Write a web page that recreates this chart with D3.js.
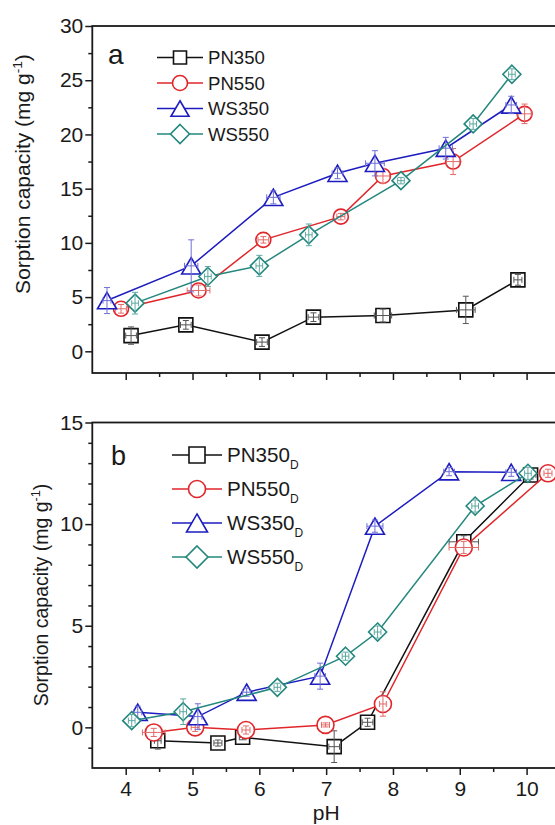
<!DOCTYPE html>
<html>
<head>
<meta charset="utf-8">
<script src="https://cdn.jsdelivr.net/npm/d3@7"></script>
<style>
  body { margin: 0; background: #fff; }
  svg { display: block; }
  text { font-family: Arial, "Liberation Sans", sans-serif; fill: #1a1a1a; }
</style>
</head>
<body>
<svg id="chart" width="555" height="825"></svg>
<script>
// ---- Panel a: pristine biochars ----
const phPN350 = [4.08, 4.90, 6.04, 6.81, 7.85, 9.09, 9.87];
const capPN350 = [1.45, 2.44, 0.85, 3.15, 3.30, 3.82, 6.59];
const phErrPN350 = [0.08, 0.08, 0.08, 0.08, 0.13, 0.14, 0.06];
const capErrPN350 = [0.8, 0.4, 0.4, 0.4, 0.6, 1.26, 0.5];

const phPN550 = [3.93, 5.09, 6.06, 7.22, 7.85, 8.90, 9.97];
const capPN550 = [3.92, 5.61, 10.28, 12.42, 16.17, 17.50, 21.90];
const phErrPN550 = [0.08, 0.17, 0.08, 0.06, 0.10, 0.10, 0.10];
const capErrPN550 = [0.4, 0.5, 0.3, 0.3, 0.7, 1.2, 0.9];

const phWS350 = [3.72, 4.98, 6.21, 7.17, 7.73, 8.79, 9.77];
const capWS350 = [4.68, 7.88, 14.20, 16.42, 17.34, 18.73, 22.72];
const phErrWS350 = [0.06, 0.10, 0.10, 0.08, 0.14, 0.10, 0.08];
const capErrWS350 = [1.2, 2.4, 0.6, 0.5, 1.16, 1.0, 0.8];

const phWS550 = [4.14, 5.23, 6.00, 6.74, 8.12, 9.20, 9.78];
const capWS550 = [4.44, 6.90, 7.88, 10.74, 15.74, 20.97, 25.55];
const phErrWS550 = [0.05, 0.05, 0.05, 0.05, 0.05, 0.05, 0.05];
const capErrWS550 = [1.0, 0.92, 0.97, 1.0, 0.3, 0.5, 0.5];

// ---- Panel b: D-series ----
const phPN350D = [4.48, 5.38, 5.75, 7.12, 7.62, 9.06, 10.06];
const capPN350D = [-0.66, -0.77, -0.49, -0.95, 0.25, 9.13, 12.42];
const phErrPN350D = [0.05, 0.06, 0.05, 0.08, 0.08, 0.22, 0.08];
const capErrPN350D = [0.41, 0.15, 0.12, 0.78, 0.2, 0.3, 0.2];

const phPN550D = [4.42, 5.04, 5.80, 6.99, 7.85, 9.06, 10.32];
const capPN550D = [-0.25, 0.00, -0.13, 0.12, 1.15, 8.85, 12.50];
const phErrPN550D = [0.17, 0.06, 0.06, 0.06, 0.05, 0.22, 0.06];
const capErrPN550D = [0.2, 0.2, 0.2, 0.1, 0.6, 0.3, 0.2];

const phWS350D = [4.18, 5.08, 5.81, 6.91, 7.73, 8.84, 9.77];
const capWS350D = [0.74, 0.53, 1.73, 2.52, 9.90, 12.58, 12.55];
const phErrWS350D = [0.06, 0.06, 0.06, 0.08, 0.12, 0.08, 0.08];
const capErrWS350D = [0.3, 0.63, 0.2, 0.64, 0.3, 0.2, 0.2];

const phWS550D = [4.09, 4.86, 6.27, 7.29, 7.77, 9.23, 10.02];
const capWS550D = [0.33, 0.77, 1.97, 3.50, 4.69, 10.89, 12.50];
const phErrWS550D = [0.05, 0.05, 0.05, 0.05, 0.05, 0.05, 0.05];
const capErrWS550D = [0.3, 0.63, 0.2, 0.2, 0.3, 0.3, 0.3];

// ---- Legend / axis text ----
const namesA = ["PN350", "PN550", "WS350", "WS550"];
const namesB = ["PN350", "PN550", "WS350", "WS550"];
const subB = "D";
const xTicks = [4, 5, 6, 7, 8, 9, 10];
const xMinor = [4.5, 5.5, 6.5, 7.5, 8.5, 9.5];
const yTicksA = [0, 5, 10, 15, 20, 25, 30];
const yMinorA = [2.5, 7.5, 12.5, 17.5, 22.5, 27.5];
const yTicksB = [0, 5, 10, 15];
const yMinorB = [-1, 1, 2, 3, 4, 6, 7, 8, 9, 11, 12, 13, 14];

// ---- Styles ----
const colors = ["#111111", "#e0262b", "#1c1cc0", "#23877e"];
const errColors = ["#555555", "#e46a6a", "#6f6fd8", "#5ea9a1"];
const shapes = ["square", "circle", "triangle", "diamond"];
const ink = "#1a1a1a";

const svg = d3.select("#chart");

function symbolPath(shape, s) {
  const h = s / 2;
  if (shape === "square") return `M${-h},${-h}H${h}V${h}H${-h}Z`;
  if (shape === "circle") return `M${h},0A${h},${h} 0 1,1 ${-h},0A${h},${h} 0 1,1 ${h},0Z`;
  if (shape === "triangle") { const th = s * 0.86; return `M0,${-th / 2}L${h},${th / 2}L${-h},${th / 2}Z`; }
  return `M0,${-h}L${h},0L0,${h}L${-h},0Z`;
}

function drawPanel(cfg) {
  const x = d3.scaleLinear().domain([3.5, 10.5]).range([92.3, 560]);
  const y = d3.scaleLinear().domain(cfg.yDomain).range([cfg.bottom, cfg.top]);
  const g = svg.append("g");

  // ticks
  const styleAxis = s => {
    s.select(".domain").remove();
    s.selectAll(".tick line").attr("stroke", ink).attr("stroke-width", 1.5);
    s.selectAll(".tick text").attr("fill", ink).style("font-size", cfg.tickFont + "px")
      .style("font-family", "Arial, 'Liberation Sans', sans-serif");
  };
  g.append("g").attr("transform", `translate(0,${cfg.bottom})`)
    .call(d3.axisBottom(x).tickValues(xMinor).tickSize(4).tickFormat("")).call(styleAxis);
  const xa = d3.axisBottom(x).tickValues(xTicks).tickSize(7).tickPadding(6)
    .tickFormat(cfg.xLabels ? d3.format("d") : "");
  g.append("g").attr("transform", `translate(0,${cfg.bottom})`).call(xa).call(styleAxis);
  g.append("g").attr("transform", `translate(92.3,0)`)
    .call(d3.axisLeft(y).tickValues(cfg.yMinor).tickSize(4).tickFormat("")).call(styleAxis);
  g.append("g").attr("transform", `translate(92.3,0)`)
    .call(d3.axisLeft(y).tickValues(cfg.yTicks).tickSize(7).tickPadding(2).tickFormat(d3.format("d")))
    .call(styleAxis);

  // frame
  g.append("rect").attr("x", 92.3).attr("y", cfg.top).attr("width", 560 - 92.3)
    .attr("height", cfg.bottom - cfg.top).attr("fill", "none").attr("stroke", ink).attr("stroke-width", 1.8);

  // series: line, hollow markers, then error bars on top
  const line = d3.line().x(d => x(d.ph)).y(d => y(d.cap));
  cfg.series.forEach((s, i) => {
    const pts = s.ph.map((p, k) => ({ ph: p, cap: s.cap[k], pe: s.phErr[k], ce: s.capErr[k] }));
    const sg = g.append("g");
    sg.append("path").attr("d", line(pts)).attr("fill", "none")
      .attr("stroke", colors[i]).attr("stroke-width", 1.5);
    sg.selectAll(".mk").data(pts).join("path")
      .attr("transform", d => `translate(${x(d.ph)},${y(d.cap)})`)
      .attr("d", symbolPath(shapes[i], cfg.markerSizes[i]))
      .attr("fill", "#fff").attr("stroke", colors[i]).attr("stroke-width", 1.6);
    const eb = sg.append("g").attr("stroke", errColors[i]).attr("stroke-width", 1).attr("fill", "none");
    pts.forEach(d => {
      const cx = x(d.ph), cy = y(d.cap);
      const y0 = y(d.cap - d.ce), y1 = y(d.cap + d.ce);
      const x0 = x(d.ph - d.pe), x1 = x(d.ph + d.pe);
      eb.append("path").attr("d",
        `M${cx},${y0}V${y1}M${cx - 3},${y0}H${cx + 3}M${cx - 3},${y1}H${cx + 3}` +
        `M${x0},${cy}H${x1}M${x0},${cy - 3}V${cy + 3}M${x1},${cy - 3}V${cy + 3}`);
    });
  });

  // panel letter
  g.append("text").attr("x", cfg.letterX).attr("y", cfg.letterY).text(cfg.letter)
    .style("font-size", cfg.letterFont + "px");

  // legend
  cfg.series.forEach((s, i) => {
    const ly = cfg.legY + i * cfg.legStep;
    g.append("line").attr("x1", cfg.legX0).attr("x2", cfg.legX1).attr("y1", ly).attr("y2", ly)
      .attr("stroke", colors[i]).attr("stroke-width", 1.5);
    g.append("path").attr("transform", `translate(${(cfg.legX0 + cfg.legX1) / 2},${ly})`)
      .attr("d", symbolPath(shapes[i], cfg.legMarkerSizes[i]))
      .attr("fill", "#fff").attr("stroke", colors[i]).attr("stroke-width", 1.6);
    const t = g.append("text").attr("x", cfg.legX1 + 5).attr("y", ly + cfg.legFont * 0.36)
      .style("font-size", cfg.legFont + "px");
    t.append("tspan").text(s.name);
    if (cfg.sub) t.append("tspan").attr("dy", 6.5).style("font-size", "12px").text(cfg.sub);
  });

  // y-axis title
  const yt = g.append("text")
    .attr("transform", `translate(${cfg.yTitleX},${cfg.yTitleY}) rotate(-90)`)
    .attr("text-anchor", "middle").style("font-size", cfg.yTitleFont + "px");
  yt.append("tspan").text("Sorption capacity (mg g");
  yt.append("tspan").attr("dy", -cfg.yTitleFont * 0.4).style("font-size", (cfg.yTitleFont * 0.65) + "px").text("-1");
  yt.append("tspan").attr("dy", cfg.yTitleFont * 0.4).text(")");
  return x;
}

const seriesA = [
  { name: namesA[0], ph: phPN350, cap: capPN350, phErr: phErrPN350, capErr: capErrPN350 },
  { name: namesA[1], ph: phPN550, cap: capPN550, phErr: phErrPN550, capErr: capErrPN550 },
  { name: namesA[2], ph: phWS350, cap: capWS350, phErr: phErrWS350, capErr: capErrWS350 },
  { name: namesA[3], ph: phWS550, cap: capWS550, phErr: phErrWS550, capErr: capErrWS550 }
];
const seriesB = [
  { name: namesB[0], ph: phPN350D, cap: capPN350D, phErr: phErrPN350D, capErr: capErrPN350D },
  { name: namesB[1], ph: phPN550D, cap: capPN550D, phErr: phErrPN550D, capErr: capErrPN550D },
  { name: namesB[2], ph: phWS350D, cap: capWS350D, phErr: phErrWS350D, capErr: capErrWS350D },
  { name: namesB[3], ph: phWS550D, cap: capWS550D, phErr: phErrWS550D, capErr: capErrWS550D }
];

drawPanel({
  series: seriesA, yDomain: [-2, 30], top: 26, bottom: 373,
  yTicks: yTicksA, yMinor: yMinorA, xLabels: false, tickFont: 21,
  markerSizes: [14, 15, 19, 18], legMarkerSizes: [13, 15, 18, 19],
  letter: "a", letterX: 108, letterY: 64, letterFont: 28,
  legX0: 157, legX1: 203, legY: 57.5, legStep: 25.5, legFont: 18.6, sub: null,
  yTitleX: 30, yTitleY: 174, yTitleFont: 21
});

const xB = drawPanel({
  series: seriesB, yDomain: [-2, 15], top: 422.5, bottom: 768,
  yTicks: yTicksB, yMinor: yMinorB, xLabels: true, tickFont: 21,
  markerSizes: [14, 17, 19, 18], legMarkerSizes: [16, 17, 21, 22],
  letter: "b", letterX: 111, letterY: 465, letterFont: 27,
  legX0: 172, legX1: 222, legY: 455, legStep: 34, legFont: 20.6, sub: subB,
  yTitleX: 48, yTitleY: 595, yTitleFont: 19.5
});

// x-axis title
svg.append("text").attr("x", xB(7)).attr("y", 820).attr("text-anchor", "middle")
  .style("font-size", "21px").text("pH");
</script>
</body>
</html>
